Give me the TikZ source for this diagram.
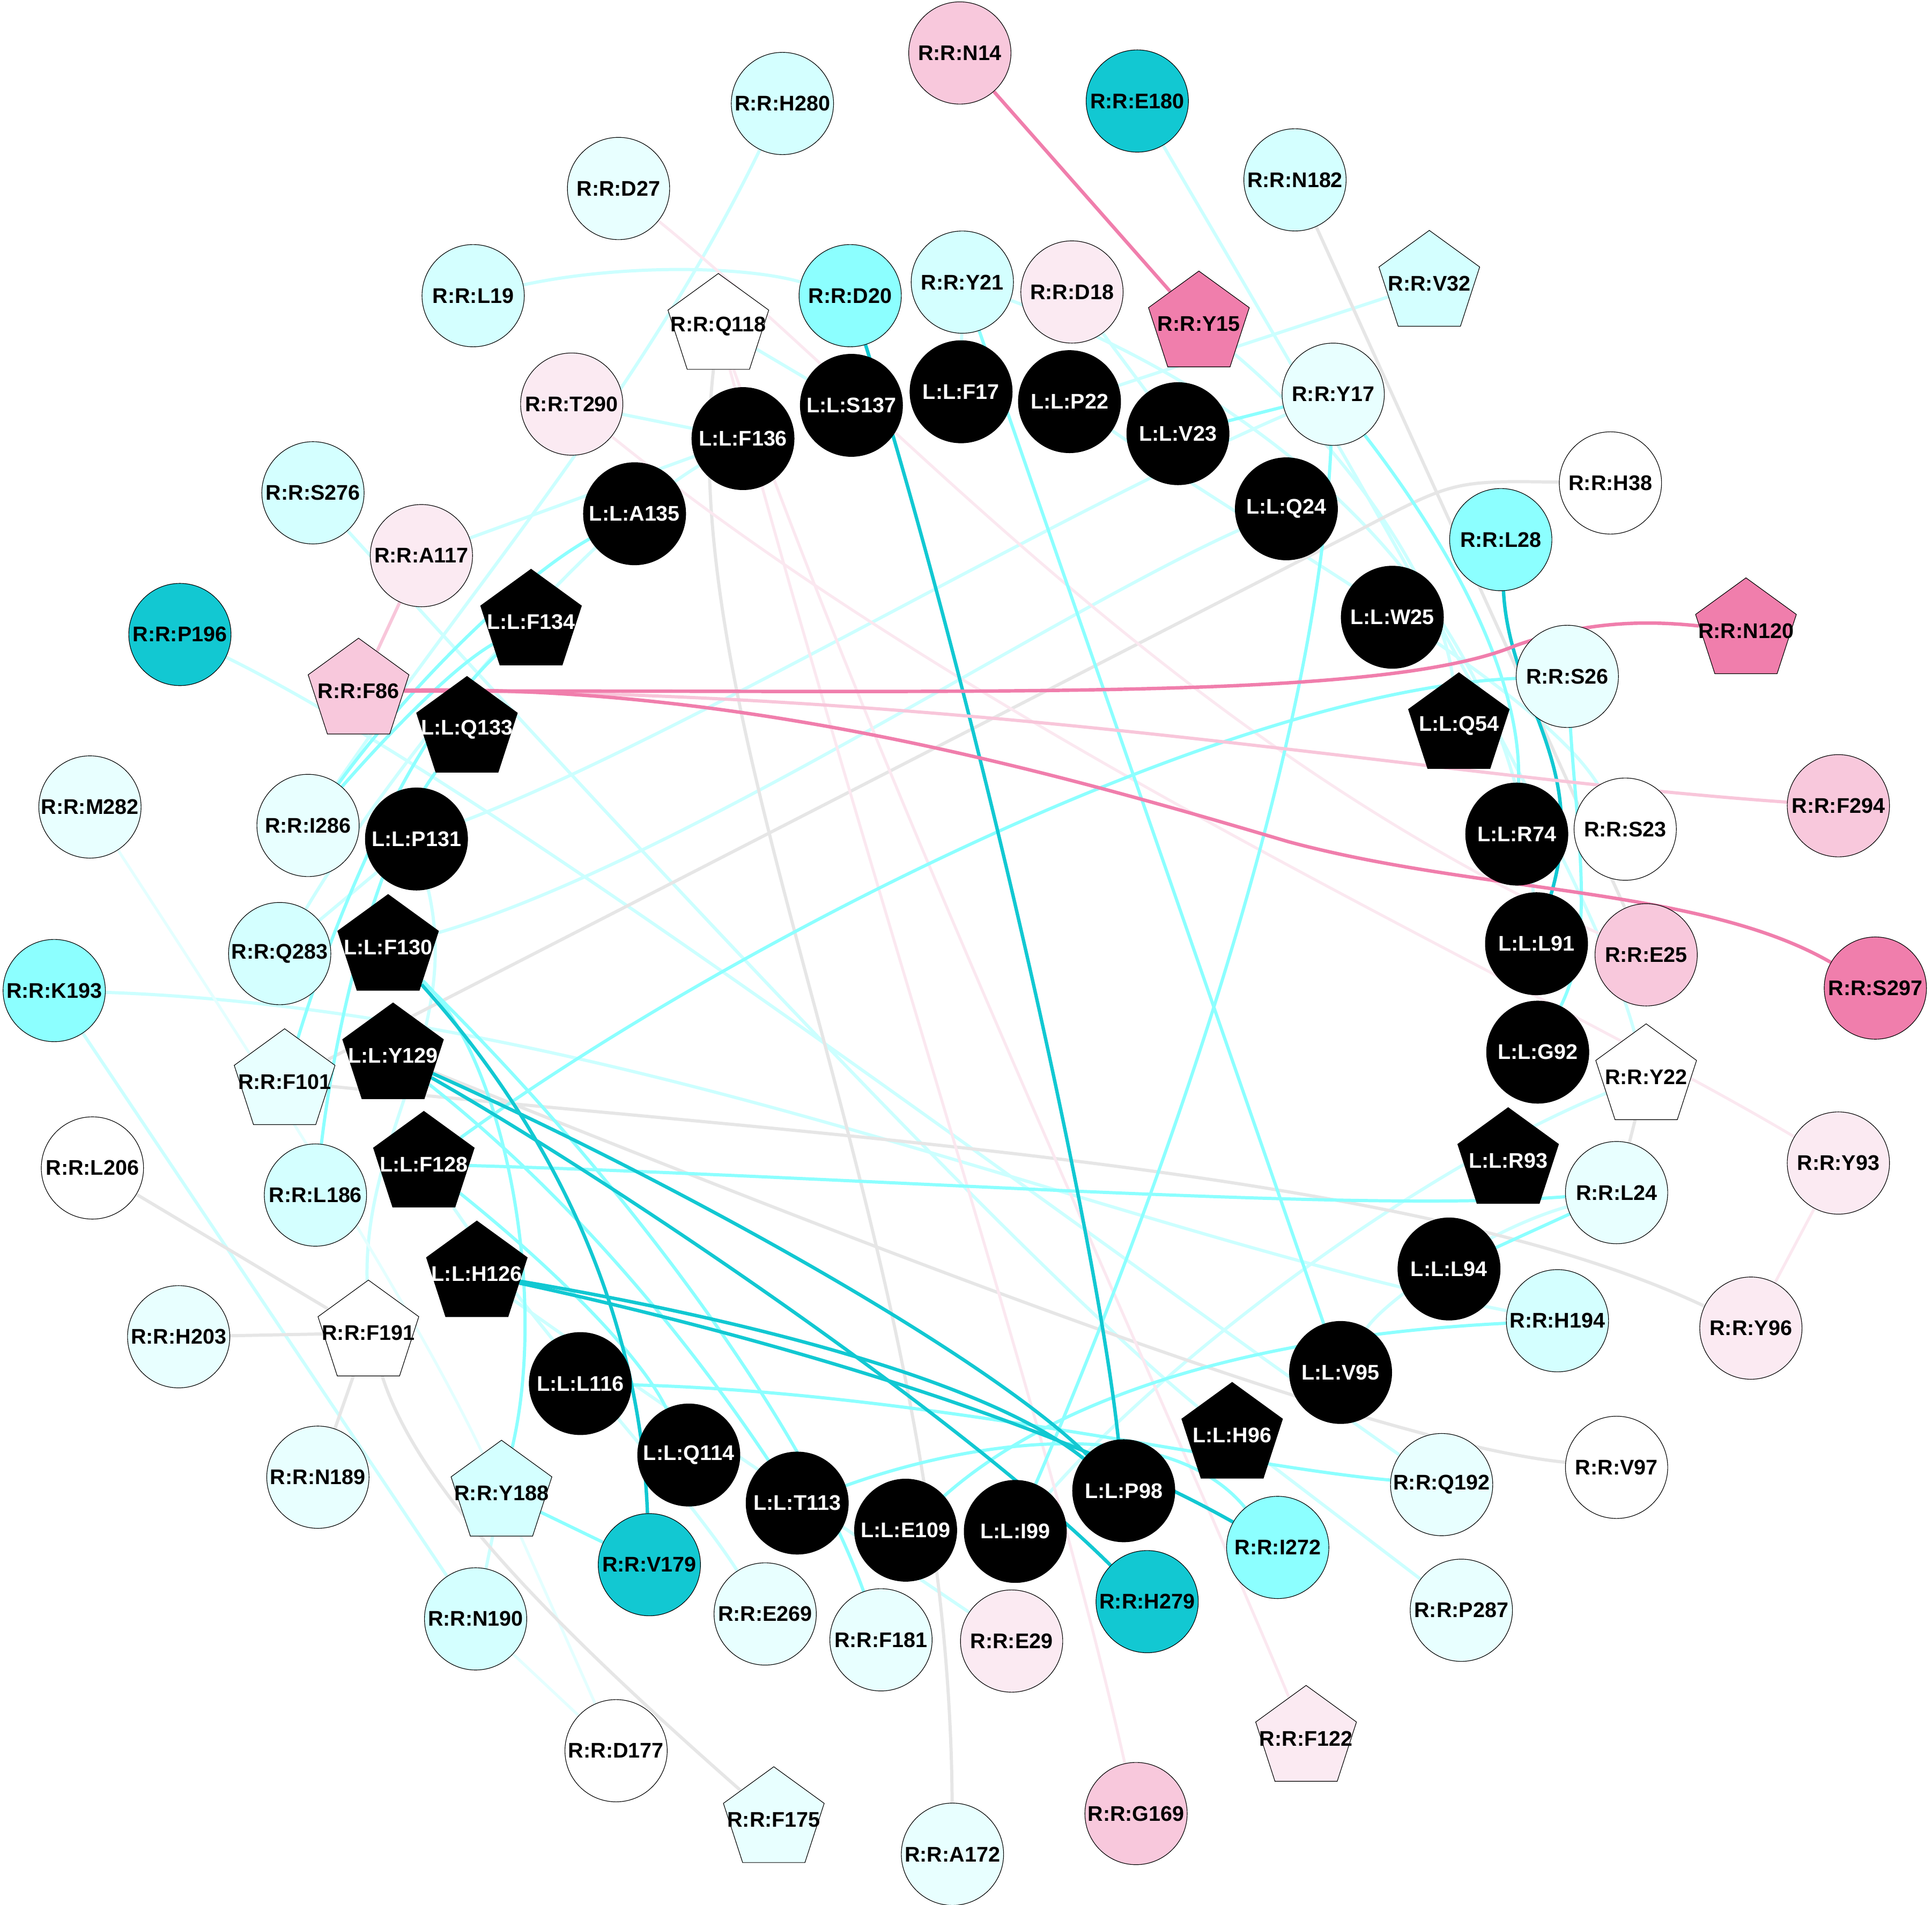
\documentclass[tikz,border=0pt]{standalone}
\usepackage{fontspec}
\setmainfont{Liberation Sans}
\usetikzlibrary{shapes.geometric,backgrounds}
\definecolor{cyA}{HTML}{E8FFFF}
\definecolor{cyB}{HTML}{D4FFFF}
\definecolor{cyC}{HTML}{8CFFFF}
\definecolor{cyD}{HTML}{12C8D2}
\definecolor{pkA}{HTML}{FBEAF2}
\definecolor{pkB}{HTML}{F8C8DC}
\definecolor{pkC}{HTML}{F07EAC}
\definecolor{ecA}{HTML}{E4FFFF}
\definecolor{ecB}{HTML}{CCFFFF}
\definecolor{ecC}{HTML}{8CFFFF}
\definecolor{ecD}{HTML}{12C8D2}
\definecolor{egr}{HTML}{E6E6E6}
\definecolor{epA}{HTML}{FBE8F0}
\definecolor{epB}{HTML}{F8C6DA}
\definecolor{epC}{HTML}{F07EAC}
\newcommand{\lb}[1]{\makebox[0pt]{#1}}

\begin{document}
\begin{tikzpicture}[x=1pt,y=-1pt,
  res/.style={circle,draw=black,line width=0.5pt,minimum size=83pt,inner sep=0pt,font=\fontsize{17.2}{20}\selectfont\bfseries},
  pen/.style={regular polygon,regular polygon sides=5,draw=black,line width=0.5pt,minimum size=86pt,inner sep=0pt,font=\fontsize{17.2}{20}\selectfont\bfseries},
  lig/.style={res,fill=black,text=white},
  ligp/.style={pen,fill=black,text=white},
  edk/.style={draw=ecD,line width=2.8pt},
  edm/.style={draw=ecC,line width=2.6pt},
  edl/.style={draw=ecB,line width=2.6pt},
  edv/.style={draw=ecA,line width=2.3pt},
  edg/.style={draw=egr,line width=2.6pt},
  pdk/.style={draw=epC,line width=2.8pt},
  pmd/.style={draw=epB,line width=2.6pt},
  plt/.style={draw=epA,line width=2.3pt}]
\useasboundingbox (0,0) rectangle (1568,1546);

\node[res,fill=pkB] (rN14) at (779,43) {\lb{R:R:N14}};
\node[res,fill=cyD] (rE180) at (923,82) {\lb{R:R:E180}};
\node[res,fill=cyB] (rH280) at (635,84) {\lb{R:R:H280}};
\node[res,fill=cyB] (rN182) at (1051,146) {\lb{R:R:N182}};
\node[res,fill=cyA] (rD27) at (502,153) {\lb{R:R:D27}};
\node[pen,fill=cyB] (rV32) at (1160,230) {\lb{R:R:V32}};
\node[res,fill=cyB] (rL19) at (384,240) {\lb{R:R:L19}};
\node[res,fill=cyC] (rD20) at (690,240) {\lb{R:R:D20}};
\node[res,fill=cyB] (rY21) at (781,229) {\lb{R:R:Y21}};
\node[res,fill=pkA] (rD18) at (870,237) {\lb{R:R:D18}};
\node[pen,fill=pkC] (rY15) at (973,263) {\lb{R:R:Y15}};
\node[pen,fill=white] (rQ118) at (583,265) {\lb{R:R:Q118}};
\node[res,fill=cyA] (rY17) at (1082,320) {\lb{R:R:Y17}};
\node[res,fill=pkA] (rT290) at (464,328) {\lb{R:R:T290}};
\node[res,fill=white] (rH38) at (1307,392) {\lb{R:R:H38}};
\node[res,fill=cyB] (rS276) at (254,400) {\lb{R:R:S276}};
\node[res,fill=cyC] (rL28) at (1218,438) {\lb{R:R:L28}};
\node[res,fill=pkA] (rA117) at (342,451) {\lb{R:R:A117}};
\node[res,fill=cyD] (rP196) at (146,515) {\lb{R:R:P196}};
\node[pen,fill=pkC] (rN120) at (1417,512) {\lb{R:R:N120}};
\node[pen,fill=pkB] (rF86) at (291,561) {\lb{R:R:F86}};
\node[res,fill=cyA] (rS26) at (1272,549) {\lb{R:R:S26}};
\node[res,fill=cyA] (rM282) at (73,655) {\lb{R:R:M282}};
\node[res,fill=cyA] (rI286) at (250,670) {\lb{R:R:I286}};
\node[res,fill=white] (rS23) at (1319,673) {\lb{R:R:S23}};
\node[res,fill=pkB] (rF294) at (1492,654) {\lb{R:R:F294}};
\node[res,fill=cyB] (rQ283) at (227,774) {\lb{R:R:Q283}};
\node[res,fill=pkB] (rE25) at (1336,775) {\lb{R:R:E25}};
\node[res,fill=cyC] (rK193) at (44,804) {\lb{R:R:K193}};
\node[res,fill=pkC] (rS297) at (1522,802) {\lb{R:R:S297}};
\node[pen,fill=cyA] (rF101) at (231,878) {\lb{R:R:F101}};
\node[pen,fill=white] (rY22) at (1336,874) {\lb{R:R:Y22}};
\node[res,fill=white] (rL206) at (75,948) {\lb{R:R:L206}};
\node[res,fill=cyB] (rL186) at (256,970) {\lb{R:R:L186}};
\node[res,fill=cyA] (rL24) at (1312,968) {\lb{R:R:L24}};
\node[res,fill=pkA] (rY93) at (1492,944) {\lb{R:R:Y93}};
\node[res,fill=cyA] (rH203) at (145,1085) {\lb{R:R:H203}};
\node[pen,fill=white] (rF191) at (299,1082) {\lb{R:R:F191}};
\node[res,fill=cyB] (rH194) at (1264,1072) {\lb{R:R:H194}};
\node[res,fill=pkA] (rY96) at (1421,1078) {\lb{R:R:Y96}};
\node[res,fill=cyA] (rN189) at (258,1199) {\lb{R:R:N189}};
\node[pen,fill=cyB] (rY188) at (407,1212) {\lb{R:R:Y188}};
\node[res,fill=cyA] (rQ192) at (1170,1205) {\lb{R:R:Q192}};
\node[res,fill=white] (rV97) at (1312,1191) {\lb{R:R:V97}};
\node[res,fill=cyD] (rV179) at (527,1270) {\lb{R:R:V179}};
\node[res,fill=cyC] (rI272) at (1037,1256) {\lb{R:R:I272}};
\node[res,fill=cyD] (rH279) at (931,1300) {\lb{R:R:H279}};
\node[res,fill=cyA] (rE269) at (621,1310) {\lb{R:R:E269}};
\node[res,fill=cyB] (rN190) at (386,1314) {\lb{R:R:N190}};
\node[res,fill=cyA] (rP287) at (1186,1307) {\lb{R:R:P287}};
\node[res,fill=cyA] (rF181) at (715,1331) {\lb{R:R:F181}};
\node[res,fill=pkA] (rE29) at (821,1332) {\lb{R:R:E29}};
\node[res,fill=white] (rD177) at (500,1421) {\lb{R:R:D177}};
\node[pen,fill=pkA] (rF122) at (1060,1411) {\lb{R:R:F122}};
\node[pen,fill=cyA] (rF175) at (628,1477) {\lb{R:R:F175}};
\node[res,fill=pkB] (rG169) at (922,1472) {\lb{R:R:G169}};
\node[res,fill=cyA] (rA172) at (773,1505) {\lb{R:R:A172}};

\node[lig] (lS137) at (691,329) {\lb{L:L:S137}};
\node[lig] (lF17) at (780,318) {\lb{L:L:F17}};
\node[lig] (lP22) at (868,326) {\lb{L:L:P22}};
\node[lig] (lV23) at (956,352) {\lb{L:L:V23}};
\node[lig] (lF136) at (603,356) {\lb{L:L:F136}};
\node[lig] (lA135) at (515,417) {\lb{L:L:A135}};
\node[lig] (lQ24) at (1044,413) {\lb{L:L:Q24}};
\node[ligp] (lF134) at (431,505) {\lb{L:L:F134}};
\node[lig] (lW25) at (1130,501) {\lb{L:L:W25}};
\node[ligp] (lQ133) at (379,592) {\lb{L:L:Q133}};
\node[ligp] (lQ54) at (1184,589) {\lb{L:L:Q54}};
\node[lig] (lP131) at (338,681) {\lb{L:L:P131}};
\node[lig] (lR74) at (1231,677) {\lb{L:L:R74}};
\node[ligp] (lF130) at (315,769) {\lb{L:L:F130}};
\node[lig] (lL91) at (1247,766) {\lb{L:L:L91}};
\node[ligp] (lY129) at (319,857) {\lb{L:L:Y129}};
\node[lig] (lG92) at (1248,854) {\lb{L:L:G92}};
\node[ligp] (lF128) at (344,945) {\lb{L:L:F128}};
\node[ligp] (lR93) at (1224,942) {\lb{L:L:R93}};
\node[ligp] (lH126) at (387,1034) {\lb{L:L:H126}};
\node[lig] (lL94) at (1176,1030) {\lb{L:L:L94}};
\node[lig] (lL116) at (471,1123) {\lb{L:L:L116}};
\node[lig] (lV95) at (1088,1114) {\lb{L:L:V95}};
\node[ligp] (lH96) at (1000,1165) {\lb{L:L:H96}};
\node[lig] (lQ114) at (559,1181) {\lb{L:L:Q114}};
\node[lig] (lT113) at (647,1220) {\lb{L:L:T113}};
\node[lig] (lP98) at (912,1210) {\lb{L:L:P98}};
\node[lig] (lE109) at (735,1242) {\lb{L:L:E109}};
\node[lig] (lI99) at (824,1243) {\lb{L:L:I99}};

\begin{scope}[on background layer]
\draw[edl] (rL19) .. controls (500,215) and (600,215) .. (rD20);
\draw[edl] (rQ118) -- (lS137);
\draw[edl] (rT290) -- (lF136);
\draw[edl] (rY21) -- (lF17);
\draw[edl] (rH280) .. controls (520,320) and (380,480) .. (rI286);
\draw[edl] (rD18) -- (lV23);
\draw[edl] (rK193) .. controls (500,820) and (900,1000) .. (rH194);
\draw[edl] (rP196) .. controls (400,640) and (850,980) .. (rQ192);
\draw[edl] (rS276) .. controls (400,560) and (800,1000) .. (lH96);
\draw[edl] (lH96) -- (rP287);
\draw[edl] (rK193) -- (rN190);
\draw[edl] (rY188) -- (rN190);
\draw[edl] (lF128) .. controls (450,1100) and (550,1200) .. (rE269);
\draw[edl] (lH126) .. controls (550,1150) and (700,1250) .. (rE29);
\draw[edl] (lF136) .. controls (450,450) and (300,650) .. (rQ283);
\draw[edl] (rA117) -- (lF136);
\draw[edl] (rQ283) -- (lP131);
\draw[edl] (rY17) .. controls (850,420) and (550,600) .. (lP131);
\draw[edl] (lQ24) .. controls (850,500) and (550,700) .. (lF130);
\draw[edl] (rV32) -- (lP22);
\draw[edl] (rE180) .. controls (1050,300) and (1290,700) .. (rY22);
\draw[edl] (rY21) .. controls (1050,330) and (1230,500) .. (lL91);
\draw[edl] (rY15) .. controls (1100,370) and (1170,480) .. (lQ54);
\draw[edl] (lP131) .. controls (375,840) and (295,920) .. (rF191);
\draw[edl] (rY22) .. controls (1150,950) and (950,1100) .. (lI99);
\draw[edl] (rL24) .. controls (1200,1000) and (1120,1060) .. (lV95);
\draw[edl] (lP22) .. controls (1050,450) and (1250,560) .. (rS23);
\draw[edv] (rN190) -- (rD177);
\draw[edv] (rY188) -- (rD177);
\draw[edv] (rM282) .. controls (200,850) and (330,1050) .. (rY188);

\draw[edg] (rQ118) .. controls (545,600) and (770,1000) .. (rA172);
\draw[edg] (rH38) .. controls (1180,390) .. (1100,432) -- (rF101);
\draw[edg] (rF101) .. controls (700,925) and (1150,950) .. (rY96);
\draw[edg] (lY129) .. controls (650,990) and (1100,1170) .. (rV97);
\draw[edg] (rN182) -- (rE25);
\draw[edg] (rY22) -- (rL24);
\draw[edg] (rL206) -- (rF191);
\draw[edg] (rH203) -- (rF191);
\draw[edg] (rN189) -- (rF191);
\draw[edg] (rF191) .. controls (340,1210) and (450,1320) .. (rF175);

\draw[plt] (rD27) .. controls (720,330) and (950,600) .. (rE25);
\draw[plt] (rT290) .. controls (800,600) and (1250,800) .. (rY93);
\draw[plt] (rQ118) .. controls (700,700) and (850,1150) .. (rG169);
\draw[plt] (rQ118) .. controls (720,650) and (930,1100) .. (rF122);
\draw[plt] (rY93) -- (rY96);

\draw[edm] (rY21) -- (lV95);
\draw[edm] (rY17) -- (lV23);
\draw[edm] (rY17) .. controls (1070,600) and (950,950) .. (lI99);
\draw[edm] (rY17) .. controls (1190,460) and (1235,560) .. (lR74);
\draw[edm] (rS26) .. controls (1000,560) and (600,760) .. (lF128);
\draw[edm] (rS26) .. controls (1280,680) and (1295,760) .. (lG92);
\draw[edm] (lF128) .. controls (700,955) and (1100,985) .. (rL24);
\draw[edm] (lL94) -- (rL24);
\draw[edm] (lT113) .. controls (800,1165) and (950,1150) .. (rI272);
\draw[edm] (lL116) .. controls (750,1130) and (1000,1190) .. (rQ192);
\draw[edm] (lE109) .. controls (850,1140) and (1000,1085) .. (rH194);
\draw[edm] (rY188) -- (rV179);
\draw[edm] (lF130) .. controls (410,860) and (445,1050) .. (rY188);
\draw[edm] (lF130) .. controls (500,950) and (650,1150) .. (rF181);
\draw[edm] (lY129) .. controls (500,1000) and (600,1150) .. (lT113);
\draw[edm] (lF128) .. controls (450,1030) and (520,1100) .. (lQ114);
\draw[edm] (lA135) .. controls (420,470) and (330,560) .. (rI286);
\draw[edm] (lF134) .. controls (370,540) and (320,590) .. (rI286);
\draw[edm] (lF134) .. controls (330,600) and (270,750) .. (rF101);
\draw[edm] (lQ133) .. controls (300,700) and (270,850) .. (rL186);

\draw[edk] (rD20) .. controls (790,560) and (890,1000) .. (lP98);
\draw[edk] (rL28) .. controls (1225,570) and (1290,620) .. (lL91);
\draw[edk] (lF130) .. controls (460,930) and (520,1080) .. (rV179);
\draw[edk] (lY129) .. controls (500,960) and (780,1150) .. (rH279);
\draw[edk] (lY129) .. controls (550,960) and (800,1100) .. (lP98);
\draw[edk] (lH126) .. controls (600,1070) and (800,1120) .. (lP98);
\draw[edk] (lH126) .. controls (600,1080) and (850,1150) .. (rI272);

\draw[pmd] (rA117) -- (rF86);
\draw[pmd] (rF86) .. controls (800,560) and (1150,630) .. (rF294);
\draw[pdk] (rN14) -- (rY15);
\draw[pdk] (rF86) .. controls (800,560) and (1120,570) .. (1230,524) .. controls (1290,503) and (1340,504) .. (rN120);
\draw[pdk] (rF86) .. controls (600,555) and (850,625) .. (1045,683) .. controls (1200,725) and (1380,720) .. (rS297);
\end{scope}
\end{tikzpicture}
\end{document}
